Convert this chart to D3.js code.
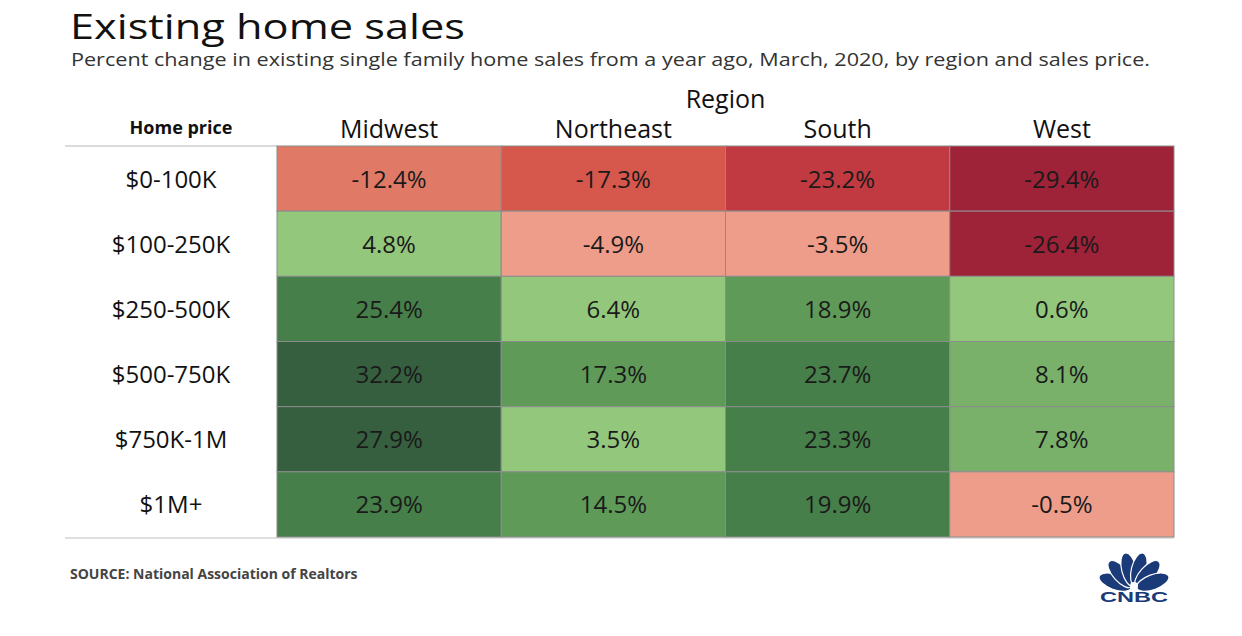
<!DOCTYPE html>
<html>
<head>
<meta charset="utf-8">
<script src="https://cdn.jsdelivr.net/npm/d3@7"></script>
<style>
  body { margin: 0; background: #fff; }
  svg { font-family: "Open Sans", Lato, sans-serif; }
</style>
</head>
<body>
<div id="chart"></div>
<script>
const regions = ["Midwest", "Northeast", "South", "West"];
const prices = ["$0-100K", "$100-250K", "$250-500K", "$500-750K", "$750K-1M", "$1M+"];
// percent change by price row, one array per region
const midwest = [-12.4, 4.8, 25.4, 32.2, 27.9, 23.9];
const northeast = [-17.3, -4.9, 6.4, 17.3, 3.5, 14.5];
const south = [-23.2, -3.5, 18.9, 23.7, 23.3, 19.9];
const west = [-29.4, -26.4, 0.6, 8.1, 7.8, -0.5];
const colorBreaks = [-25, -20, -15, -10, 0, 7, 10, 19, 27];
const colorSteps = ["#9e2238", "#c13a42", "#d6574b", "#e07a67", "#ee9d8a",
                    "#93c77c", "#79b06a", "#5f9a58", "#467f49", "#365f3f"];

const W = 1242, H = 636;
const GRID = {left: 277, right: 1174, top: 146, bottom: 537};

const svg = d3.select("#chart").append("svg")
    .attr("width", W)
    .attr("height", H);

const x = d3.scaleBand().domain(regions).range([GRID.left, GRID.right]);
const y = d3.scaleBand().domain(prices).range([GRID.top, GRID.bottom]);
const color = d3.scaleThreshold().domain(colorBreaks).range(colorSteps);

const series = {Midwest: midwest, Northeast: northeast, South: south, West: west};
const cells = [];
regions.forEach(r => prices.forEach((p, i) => cells.push({region: r, price: p, value: series[r][i]})));

// titles
svg.append("text")
    .attr("x", 70).attr("y", 39)
    .attr("font-size", 35)
    .attr("fill", "#111")
    .attr("textLength", 395)
    .attr("lengthAdjust", "spacingAndGlyphs")
    .text("Existing home sales");
svg.append("text")
    .attr("x", 71).attr("y", 66)
    .attr("font-size", 18.5)
    .attr("fill", "#333")
    .attr("textLength", 1079)
    .attr("lengthAdjust", "spacingAndGlyphs")
    .text("Percent change in existing single family home sales from a year ago, March, 2020, by region and sales price.");

// header
svg.append("text")
    .attr("x", (GRID.left + GRID.right) / 2).attr("y", 108)
    .attr("text-anchor", "middle")
    .attr("font-size", 25)
    .attr("fill", "#111")
    .text("Region");
svg.append("g").selectAll("text")
    .data(regions)
    .join("text")
    .attr("x", d => x(d) + x.bandwidth() / 2)
    .attr("y", 138)
    .attr("text-anchor", "middle")
    .attr("font-size", 25)
    .attr("fill", "#111")
    .text(d => d);
svg.append("text")
    .attr("x", 181).attr("y", 134)
    .attr("text-anchor", "middle")
    .attr("font-size", 18)
    .attr("font-weight", "bold")
    .attr("fill", "#111")
    .text("Home price");

// rules
svg.append("line")
    .attr("x1", 65).attr("x2", GRID.left)
    .attr("y1", GRID.top).attr("y2", GRID.top)
    .attr("stroke", "#cfcfcf").attr("stroke-width", 1.5);
svg.append("line")
    .attr("x1", 65).attr("x2", GRID.right)
    .attr("y1", GRID.bottom + 1).attr("y2", GRID.bottom + 1)
    .attr("stroke", "#d5d5d5").attr("stroke-width", 1.5);

// row labels
svg.append("g").selectAll("text")
    .data(prices)
    .join("text")
    .attr("x", 171)
    .attr("y", d => y(d) + y.bandwidth() / 2 + 9)
    .attr("text-anchor", "middle")
    .attr("font-size", 24)
    .attr("fill", "#111")
    .text(d => d);

// heatmap cells
const cell = svg.append("g").selectAll("g")
    .data(cells)
    .join("g");
cell.append("rect")
    .attr("x", d => x(d.region))
    .attr("y", d => y(d.price))
    .attr("width", x.bandwidth())
    .attr("height", y.bandwidth())
    .attr("fill", d => color(d.value))
    .attr("stroke", "#8c8c8c")
    .attr("stroke-width", 1);
cell.append("text")
    .attr("x", d => x(d.region) + x.bandwidth() / 2)
    .attr("y", d => y(d.price) + y.bandwidth() / 2 + 9)
    .attr("text-anchor", "middle")
    .attr("font-size", 24)
    .attr("fill", "#1a1a1a")
    .text(d => d.value.toFixed(1) + "%");

// source
svg.append("text")
    .attr("x", 70).attr("y", 579)
    .attr("font-size", 14)
    .attr("font-weight", "bold")
    .attr("fill", "#444")
    .text("SOURCE: National Association of Realtors");

// CNBC peacock
const logo = svg.append("g").attr("transform", "translate(1134,589)");
const angles = [-70, -42, -14, 14, 42, 70];
logo.selectAll("ellipse")
    .data(angles)
    .join("ellipse")
    .attr("cx", 0).attr("cy", -20)
    .attr("rx", 7.5).attr("ry", 17)
    .attr("transform", d => `rotate(${d})`)
    .attr("fill", "#1b3a78")
    .attr("stroke", "#fff")
    .attr("stroke-width", 1.2);
logo.append("circle")
    .attr("cx", 0).attr("cy", -3).attr("r", 4)
    .attr("fill", "#fff");
logo.append("text")
    .attr("x", -34).attr("y", 13)
    .attr("font-family", "Liberation Sans, Arial, sans-serif")
    .attr("font-weight", "bold")
    .attr("font-size", 15)
    .attr("fill", "#1b3a78")
    .attr("textLength", 68)
    .attr("lengthAdjust", "spacingAndGlyphs")
    .text("CNBC");
</script>
</body>
</html>
